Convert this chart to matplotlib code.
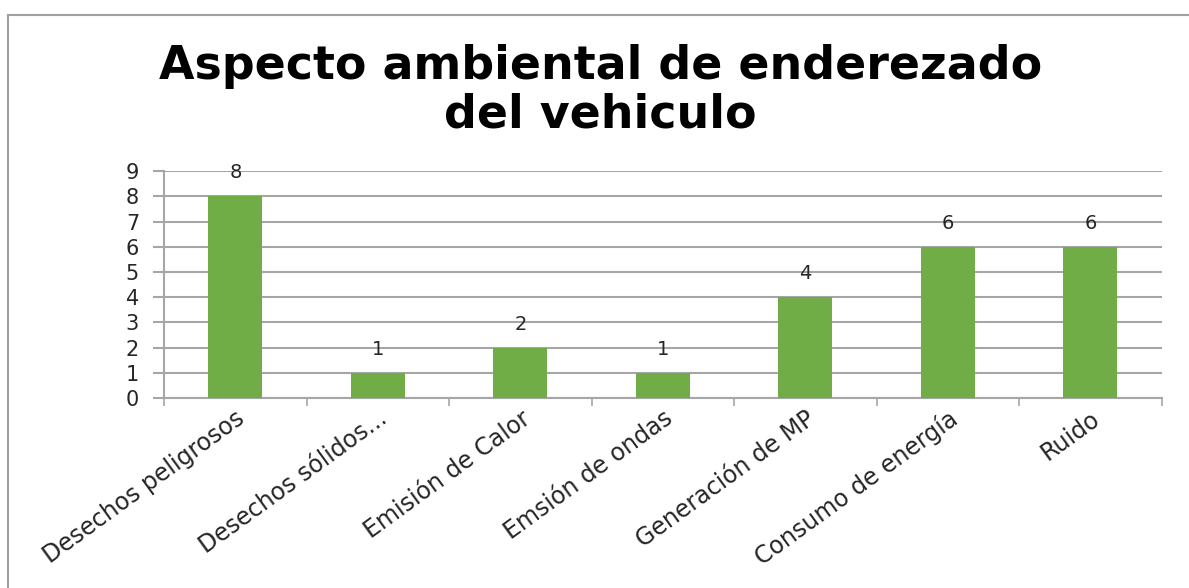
"""Aspecto ambiental de enderezado del vehiculo (bar chart)"""
import matplotlib.pyplot as plt
from matplotlib.lines import Line2D
import numpy as np

# data
categories = [
    "Desechos peligrosos",
    "Desechos sólidos...",
    "Emisión de Calor",
    "Emsión de ondas",
    "Generación de MP",
    "Consumo de energía",
    "Ruido",
]
values = [8, 1, 2, 1, 4, 6, 6]
y_ticks = list(range(0, 10))

bar_color = "#70AD47"
grid_color = "#a6a6a6"
text_color = "#262626"

fig = plt.figure(figsize=(11.89, 5.88), dpi=100)
ax = fig.add_axes([0.138, 0.323, 0.839, 0.386])

x = np.arange(len(categories))
ax.bar(x, values, width=0.38, color=bar_color, zorder=3)

# value labels above bars
for xi, v in zip(x, values):
    ax.text(xi, v + 0.55, str(v), ha="center", va="bottom", fontsize=14,
            color=text_color)

ax.set_xlim(-0.5, len(categories) - 0.5)
ax.set_ylim(0, 9)
ax.set_yticks(y_ticks)
ax.yaxis.grid(True, color=grid_color, linewidth=1.5, zorder=0)

# category labels at centres, tick marks at boundaries
ax.set_xticks(x)
ax.set_xticklabels(categories, rotation=36, ha="right", rotation_mode="anchor",
                   fontsize=17, color=text_color)
ax.set_xticks(np.arange(len(categories) + 1) - 0.5, minor=True)
ax.tick_params(axis="x", which="major", length=0, pad=6)
ax.tick_params(axis="x", which="minor", length=6, width=1.2, color=grid_color)
ax.tick_params(axis="y", length=8, width=1.5, color=grid_color, labelsize=15,
               labelcolor=text_color, pad=10)

for side in ["top", "right"]:
    ax.spines[side].set_visible(False)
for side in ["left", "bottom"]:
    ax.spines[side].set_color(grid_color)
    ax.spines[side].set_linewidth(1.5)

fig.suptitle("Aspecto ambiental de enderezado\ndel vehiculo", x=0.505, y=0.925,
             fontsize=33, fontweight="bold", color="black", linespacing=1.1)

# chart area border
fig.add_artist(Line2D([8 / 1189, 1], [1 - 15 / 588, 1 - 15 / 588],
                      color="#a0a0a0", linewidth=1.5))
fig.add_artist(Line2D([8 / 1189, 8 / 1189], [0, 1 - 15 / 588],
                      color="#a0a0a0", linewidth=1.5))

fig.savefig("out.png", dpi=100)
